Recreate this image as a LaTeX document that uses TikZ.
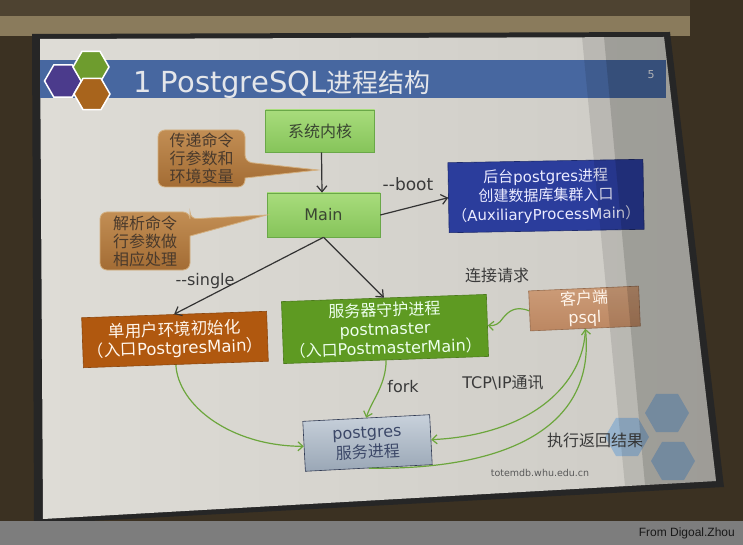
\documentclass[tikz,border=0pt]{standalone}
\usepackage{fontspec}
\setmainfont{DejaVu Sans}
\newfontfamily\cjk{Noto Sans CJK SC}
\newfontfamily\footfont{Liberation Sans}
\newcommand{\zh}[1]{{\cjk #1}}
\usetikzlibrary{arrows.meta,shapes.geometric}

\definecolor{wall}{HTML}{3B3122}
\definecolor{housingtop}{HTML}{4E4331}
\definecolor{housing}{HTML}{8A7B5C}
\definecolor{slideleft}{HTML}{DEDCD6}
\definecolor{slideright}{HTML}{CDCBC5}
\definecolor{titleblue}{HTML}{4767A0}
\definecolor{titletext}{HTML}{E4E6EA}
\definecolor{hexpurple}{HTML}{4B3B8C}
\definecolor{hexgreen}{HTML}{6E9C2E}
\definecolor{hexbrown}{HTML}{A8641C}
\definecolor{hexblue}{HTML}{8FB0CF}
\definecolor{lgtop}{HTML}{A8DC7C}
\definecolor{lgbot}{HTML}{86C45A}
\definecolor{lgedge}{HTML}{6AA848}
\definecolor{lgtext}{HTML}{3A4632}
\definecolor{auxblue}{HTML}{2B3D9C}
\definecolor{singlebrown}{HTML}{B0580F}
\definecolor{pmgreen}{HTML}{5E9A22}
\definecolor{psqltop}{HTML}{CC9C78}
\definecolor{psqlbot}{HTML}{BC8762}
\definecolor{pgtop}{HTML}{C8D1DB}
\definecolor{pgbot}{HTML}{9AA7B6}
\definecolor{pgtext}{HTML}{3C4868}
\definecolor{calltop}{HTML}{C28E54}
\definecolor{callbot}{HTML}{A36C34}
\definecolor{calledge}{HTML}{D4B080}
\definecolor{calltext}{HTML}{4A3A2C}
\definecolor{flowgreen}{HTML}{6CA63C}
\definecolor{arrowgray}{HTML}{333333}
\definecolor{labelgray}{HTML}{3A3A3A}
\definecolor{stripgray}{HTML}{7D7D7D}

\tikzset{
  proc/.style={rectangle, line width=0.6pt, align=center, inner sep=1pt,
    font=\fontsize{16}{19}\selectfont},
  lbl/.style={inner sep=0pt, text=labelgray, font=\fontsize{16}{16}\selectfont},
  calltxt/.style={inner sep=0pt, align=center, text=calltext,
    font=\cjk\fontsize{16}{18}\selectfont},
  callout/.style={top color=calltop, bottom color=callbot, draw=calledge, line width=0.8pt},
  link/.style={draw=arrowgray, line width=1.2pt, -{Straight Barb[length=6pt,width=10pt]}},
  flow/.style={draw=flowgreen, line width=1.2pt, -{Straight Barb[length=5pt,width=9pt]}},
  hex/.style={regular polygon, regular polygon sides=6, inner sep=0pt, minimum size=#1},
}

\begin{document}
\begin{tikzpicture}[x=1pt,y=-1pt]
  \useasboundingbox (0,0) rectangle (743,545);

  % room and screen
  \fill[wall] (0,0) rectangle (743,545);
  \fill[housingtop] (0,0) rectangle (690,16);
  \fill[housing] (0,16) rectangle (690,36);
  \fill[black!85] (32,34) -- (670,32) -- (724,487) -- (34,524) -- cycle;
  \shade[left color=slideleft, right color=slideright] (40,39) -- (664,37) -- (716,481) -- (43,519) -- cycle;

  % title bar
  \fill[titleblue] (40,60) rectangle (666,98);
  \node[anchor=base west, text=titletext, inner sep=0pt] (title) at (133,93)
    {\fontsize{29}{29}\selectfont 1 PostgreSQL\zh{\fontsize{26}{26}\selectfont 进程结构}};
  \node[text=titletext, font=\fontsize{11}{11}\selectfont] (pagenum) at (651,75) {5};
  \node[hex=37pt, fill=hexpurple, draw=white, line width=1.5pt] (hexa) at (63,81) {};
  \node[hex=36pt, fill=hexgreen, draw=white, line width=1.5pt] (hexb) at (91,67) {};
  \node[hex=36pt, fill=hexbrown, draw=white, line width=1.5pt] (hexc) at (92,94) {};

  % corner hexagons
  \node[hex=44pt, fill=hexblue, opacity=0.85] (hexd) at (667,413) {};
  \node[hex=44pt, fill=hexblue, opacity=0.85] (hexe) at (627,437) {};
  \node[hex=44pt, fill=hexblue, opacity=0.85] (hexf) at (673,461) {};

  % processes
  \node[proc, minimum width=109pt, minimum height=42pt, draw=lgedge, top color=lgtop,
    bottom color=lgbot, text=lgtext] (kern) at (320,131) {\zh{系统内核}};
  \node[proc, minimum width=113pt, minimum height=44pt, draw=lgedge, top color=lgtop,
    bottom color=lgbot, text=lgtext] (main) at (323.5,215) {Main};
  \node[proc, minimum width=195pt, minimum height=70pt, fill=auxblue, draw=auxblue!70!black,
    text=white!92!blue, rotate=1, font=\fontsize{15}{19}\selectfont] (aux) at (546,196)
    {\zh{后台}postgres\zh{进程}\\\zh{创建数据库集群入口}\\\zh{（}AuxiliaryProcessMain\zh{）}};
  \node[proc, minimum width=185pt, minimum height=50pt, fill=singlebrown, draw=singlebrown!80!black,
    text=white!93!orange, rotate=2, font=\fontsize{16.5}{18.5}\selectfont] (single) at (175,339.5)
    {\zh{单用户环境初始化}\\\zh{（入口}PostgresMain\zh{）}};
  \node[proc, minimum width=205pt, minimum height=62pt, fill=pmgreen, draw=pmgreen!80!black,
    text=white!93!green, rotate=2] (pm) at (385,329)
    {\zh{服务器守护进程}\\postmaster\\\zh{（入口}PostmasterMain\zh{）}};
  \node[proc, minimum width=110pt, minimum height=40pt, top color=psqltop, bottom color=psqlbot,
    draw=psqlbot!80!black, text=white!92!orange, rotate=2.5] (psql) at (584.5,308.5)
    {\zh{客户端}\\psql};
  \node[proc, minimum width=127pt, minimum height=50pt, top color=pgtop, bottom color=pgbot,
    draw=pgtext!80!black, text=pgtext, rotate=3, font=\fontsize{16}{20}\selectfont] (pg) at (367.5,443)
    {postgres\\\zh{服务进程}};

  % callouts
  \draw[callout] (158,130) [rounded corners=7pt] -- (245,130) -- (245,162) [sharp corners]
    -- (318,170) -- (245,178) [rounded corners=7pt] -- (245,187) -- (158,187) -- cycle;
  \node[calltxt] (argsa) at (201.5,158.5) {传递命令\\行参数和\\环境变量};
  \draw[callout] (100,212) [rounded corners=7pt] -- (190,212) -- (190,219) [sharp corners]
    -- (main.west) -- (190,236) [rounded corners=7pt] -- (190,270) -- (100,270) -- cycle;
  \node[calltxt] (argsb) at (145,241) {解析命令\\行参数做\\相应处理};

  % startup arrows
  \draw[link] ([xshift=1.5pt]kern.south) -- ([xshift=-1.5pt]main.north);
  \draw[link] (main.east) -- (aux.west);
  \draw[link] (main.south) -- (single.north);
  \draw[link] (main.south) -- (pm.north);
  \node[lbl, font=\fontsize{17}{17}\selectfont] (boot) at (408,184) {-{}-boot};
  \node[lbl] (singlelbl) at (205,281) {-{}-single};

  % connections
  \draw[flow] (psql.west) .. controls (515,305) and (508,312) .. (503,318)
    .. controls (499,324) and (495,326) .. (pm.east);
  \draw[flow] (pm.south) .. controls (386,385) and (372,400) .. (pg.north);
  \draw[flow] (single.south) .. controls (178,405) and (230,446) .. (pg.west);
  \draw[flow] (psql.south) .. controls (584,385) and (530,435) .. (pg.east);
  \draw[flow] (pg.south) .. controls (520,470) and (595,420) .. (psql.south);
  \node[lbl, font=\cjk\fontsize{16}{16}\selectfont] (request) at (497,275) {连接请求};
  \node[lbl] (fork) at (403,387) {fork};
  \node[lbl] (tcp) at (503,383) {TCP\textbackslash IP\zh{通讯}};
  \node[lbl, font=\cjk\fontsize{16}{16}\selectfont] (result) at (595,440) {执行返回结果};
  \node[lbl, font=\fontsize{9.5}{9.5}\selectfont, text=black!65] (site) at (540,473) {totemdb.whu.edu.cn};

  % shadow on the right of the screen
  \fill[black, opacity=0.1] (582,37) -- (664,37) -- (716,481) -- (625,486) -- cycle;
  \fill[black, opacity=0.14] (604,37) -- (664,37) -- (716,481) -- (645,485) -- cycle;

  % credit strip
  \fill[stripgray] (0,521) rectangle (743,545);
  \node[anchor=east, inner sep=0pt, text=black!90, font=\footfont\fontsize{12}{12}\selectfont]
    (credit) at (735,533) {From Digoal.Zhou};
\end{tikzpicture}
\end{document}
